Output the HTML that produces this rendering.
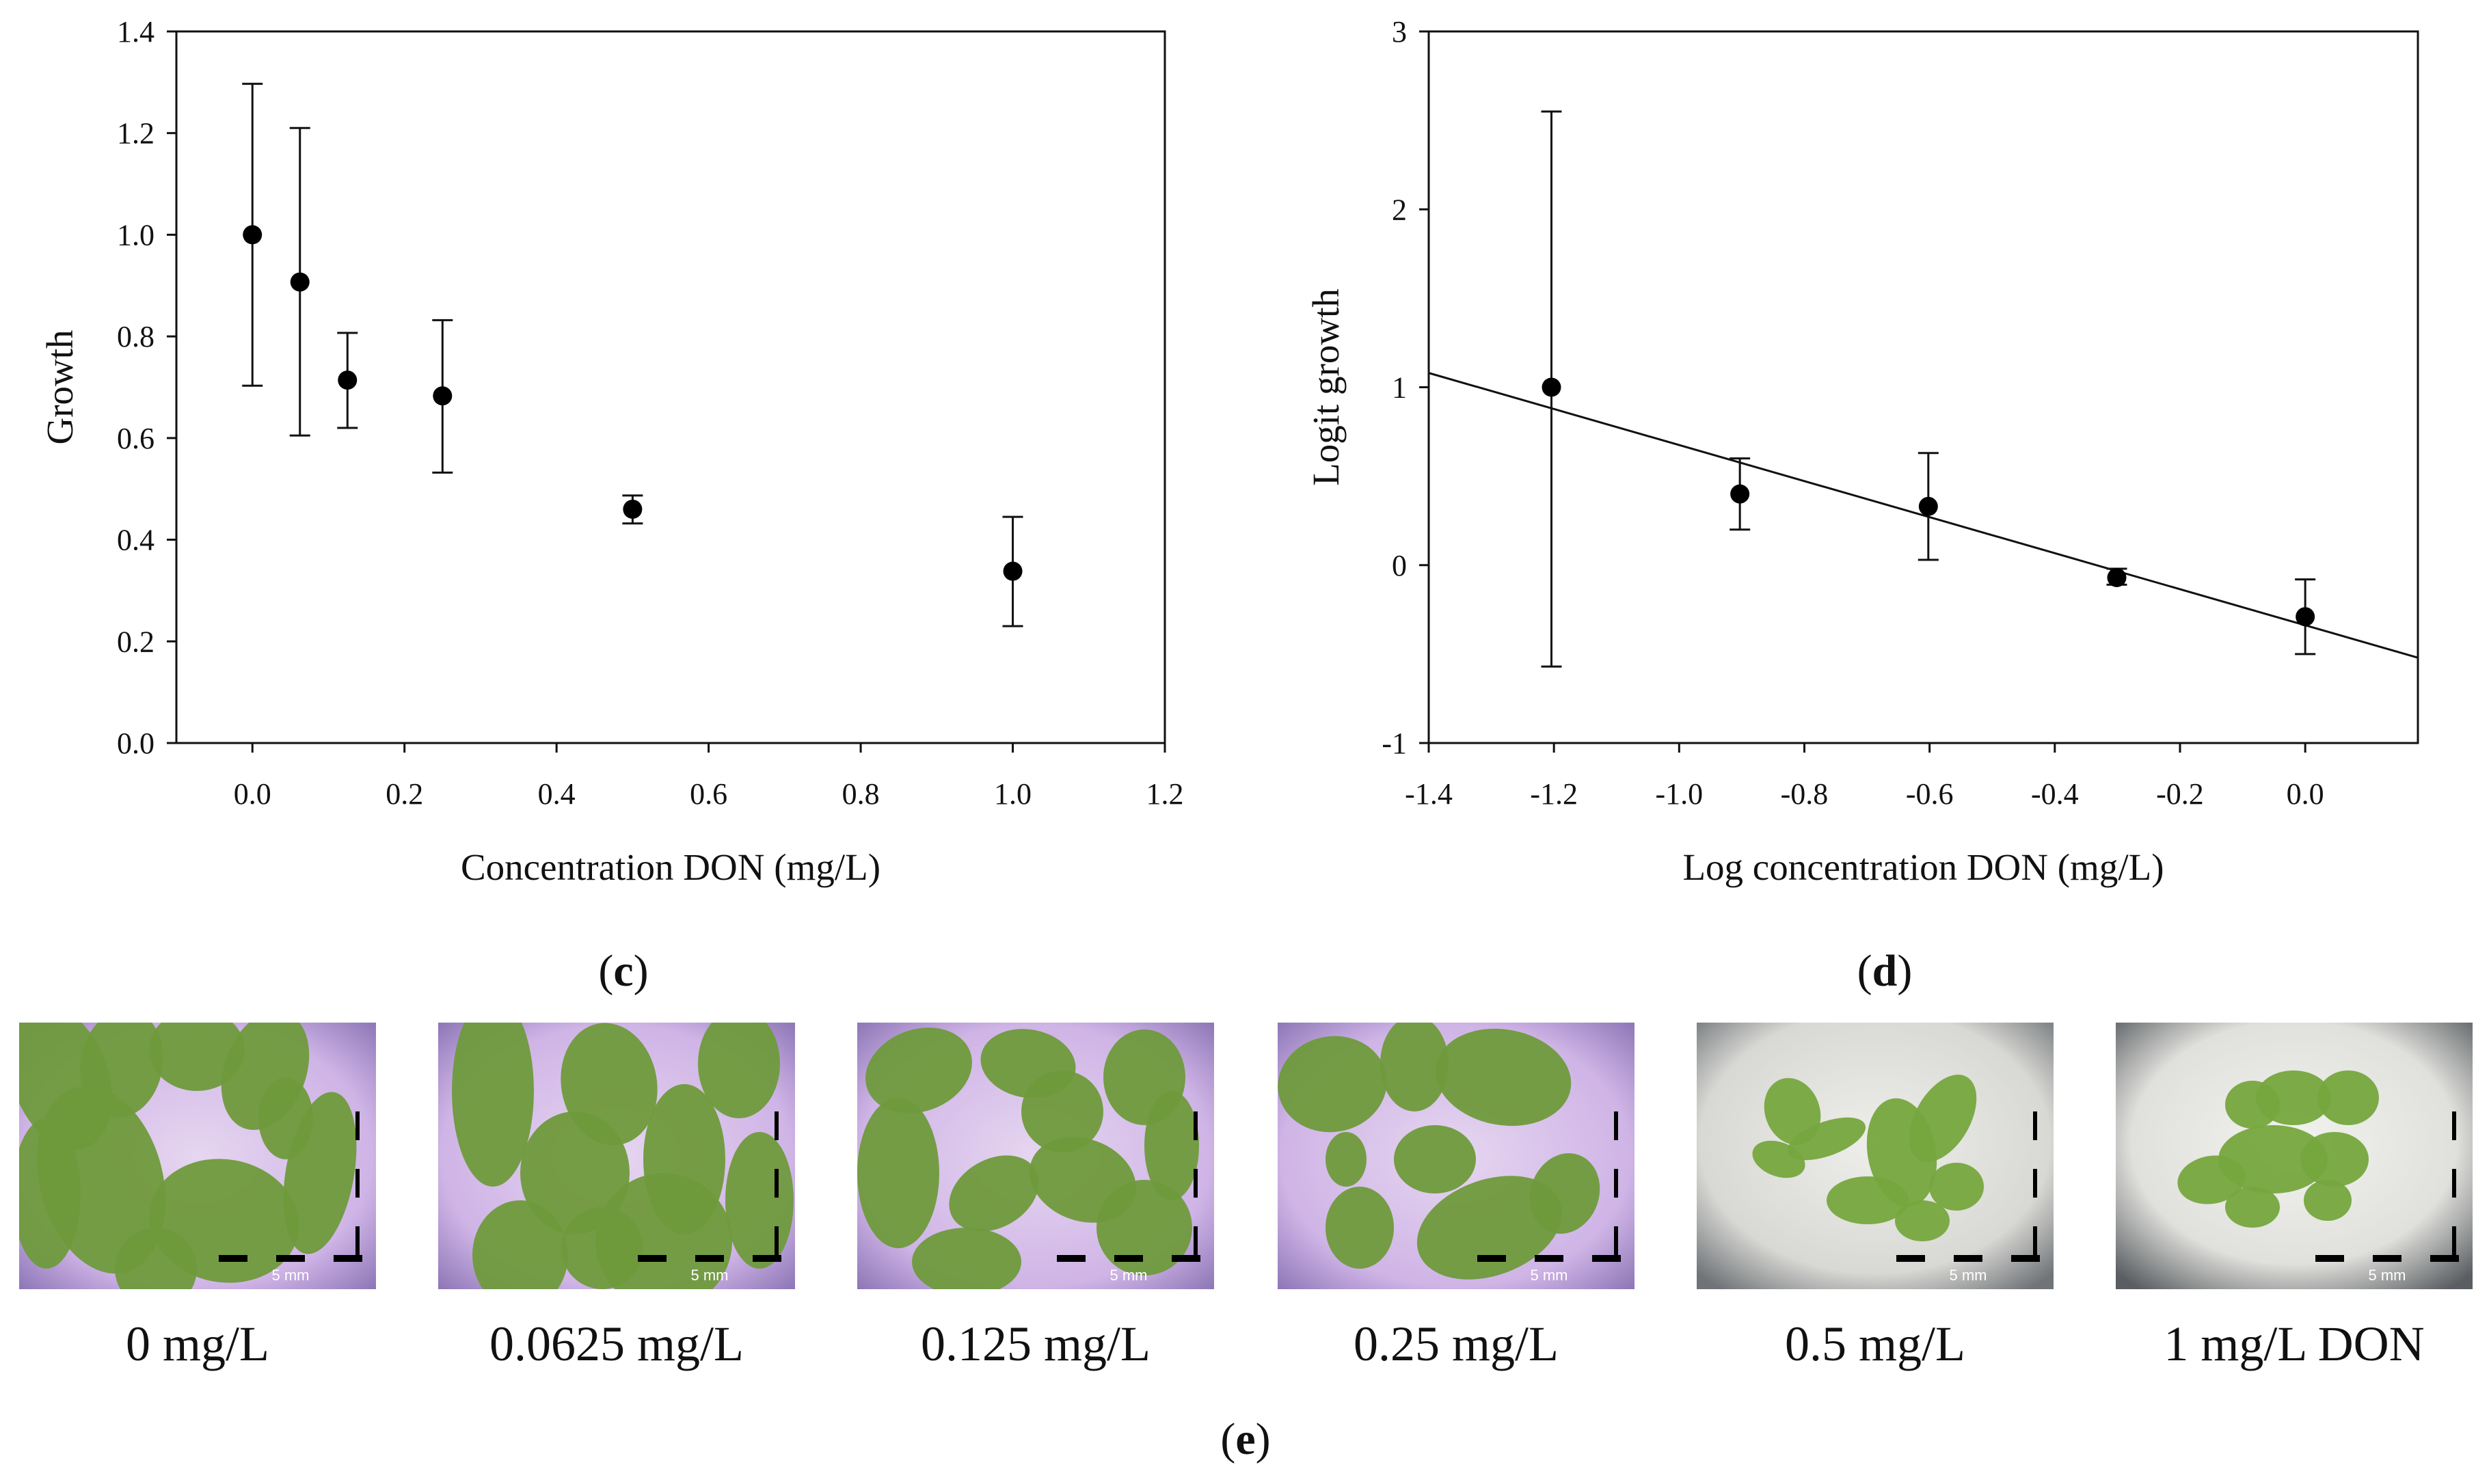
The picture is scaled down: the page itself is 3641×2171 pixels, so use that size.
<!DOCTYPE html>
<html><head><meta charset="utf-8"><style>
html,body{margin:0;padding:0;background:#fff}
svg{display:block}
text{font-family:"Liberation Serif",serif;fill:#111}
</style></head><body>
<svg id="fig" width="3641" height="2171" viewBox="0 0 3641 2171" xmlns="http://www.w3.org/2000/svg">
<defs>
<radialGradient id="purp" cx="50%" cy="50%" r="70%"><stop offset="0" stop-color="#e6d6f0"/><stop offset="0.7" stop-color="#cfb4e6"/><stop offset="1" stop-color="#8f78b8"/></radialGradient>
<radialGradient id="grey" cx="50%" cy="45%" r="70%"><stop offset="0" stop-color="#eeeeea"/><stop offset="0.7" stop-color="#d8d8d4"/><stop offset="1" stop-color="#707478"/></radialGradient>
<radialGradient id="grey2" cx="50%" cy="45%" r="70%"><stop offset="0" stop-color="#f2f2ee"/><stop offset="0.65" stop-color="#e0e0dc"/><stop offset="1" stop-color="#5a5e62"/></radialGradient>
<clipPath id="pclip"><rect x="0" y="0" width="522" height="390"/></clipPath>
</defs>
<g id="chartC"></g>
<g id="chartD"></g>
<text x="912" y="1442" font-size="66" text-anchor="middle">(<tspan font-weight="bold">c</tspan>)</text>
<text x="2757" y="1442" font-size="66" text-anchor="middle">(<tspan font-weight="bold">d</tspan>)</text>
<g id="photos"></g>
<text x="1822" y="2127" font-size="66" text-anchor="middle">(<tspan font-weight="bold">e</tspan>)</text>
</svg>
<script>
// Chart (c)
const cX = [0, 0.0625, 0.125, 0.25, 0.5, 1.0];
const cY = [1.0, 0.907, 0.714, 0.683, 0.46, 0.338];
const cHi = [1.297, 1.21, 0.807, 0.832, 0.487, 0.445];
const cLo = [0.703, 0.605, 0.62, 0.532, 0.432, 0.23];
const cXTicks = ["0.0","0.2","0.4","0.6","0.8","1.0","1.2"];
const cYTicks = ["0.0","0.2","0.4","0.6","0.8","1.0","1.2","1.4"];
// Chart (d)
const dX = [-1.204, -0.903, -0.602, -0.301, 0];
const dY = [1.0, 0.4, 0.33, -0.07, -0.29];
const dHi = [2.55, 0.6, 0.63, -0.02, -0.08];
const dLo = [-0.57, 0.2, 0.03, -0.11, -0.5];
const dXTicks = ["-1.4","-1.2","-1.0","-0.8","-0.6","-0.4","-0.2","0.0"];
const dYTicks = ["-1","0","1","2","3"];
const dFit = [-0.338, -1.013]; // intercept, slope
const photoLabels = ["0 mg/L","0.0625 mg/L","0.125 mg/L","0.25 mg/L","0.5 mg/L","1 mg/L DON"];

const NS="http://www.w3.org/2000/svg";
function mk(p,tag,a){const e=document.createElementNS(NS,tag);for(const k in a)e.setAttribute(k,a[k]);p.appendChild(e);return e;}

function chart(g, o){
  const sx=v=>o.L+(v-o.x0)/(o.x1-o.x0)*(o.R-o.L);
  const sy=v=>o.B-(v-o.y0)/(o.y1-o.y0)*(o.B-o.T);
  const fr=mk(g,'rect',{x:o.L,y:o.T,width:o.R-o.L,height:o.B-o.T,fill:'none',stroke:'#111','stroke-width':3});
  
  
  o.xt.forEach(t=>{const v=parseFloat(t),x=sx(v);
    const l=mk(g,'line',{x1:x,y1:o.B,x2:x,y2:o.B+14,stroke:'#111','stroke-width':3});
    
    
    const tx=mk(g,'text',{x:x,y:o.B+89,'font-size':44,'text-anchor':'middle'});tx.textContent=t;
    
    });
  o.yt.forEach(t=>{const v=parseFloat(t),y=sy(v);
    const l=mk(g,'line',{x1:o.L-14,y1:y,x2:o.L,y2:y,stroke:'#111','stroke-width':3});
    
    
    const tx=mk(g,'text',{x:o.L-32,y:y+15,'font-size':44,'text-anchor':'end'});tx.textContent=t;
    
    });
  if(o.fit){const a=o.x0,b=o.x1;
    const fl=mk(g,'line',{x1:sx(a),y1:sy(o.fit[0]+o.fit[1]*a),x2:sx(b),y2:sy(o.fit[0]+o.fit[1]*b),stroke:'#111','stroke-width':3});
    
    }
  o.xs.forEach((v,i)=>{const x=sx(v);
    const eb=mk(g,'path',{d:`M${x},${sy(o.hi[i])}V${sy(o.lo[i])}M${x-15},${sy(o.hi[i])}H${x+15}M${x-15},${sy(o.lo[i])}H${x+15}`,stroke:'#111','stroke-width':3,fill:'none'});
    
    
    const c=mk(g,'circle',{cx:x,cy:sy(o.ys[i]),r:14,fill:'#000'});
    
    });
  const xl=mk(g,'text',{x:(o.L+o.R)/2,y:o.B+200,'font-size':55,'text-anchor':'middle'});xl.textContent=o.xlab;
  
  
  const yl=mk(g,'text',{x:0,y:0,'font-size':55,'text-anchor':'middle',transform:`translate(${o.yx},${(o.T+o.B)/2}) rotate(-90)`});yl.textContent=o.ylab;
  
  
}
chart(document.getElementById('chartC'),{L:258,R:1704,T:46,B:1087,x0:-0.1,x1:1.2,y0:0,y1:1.4,xt:cXTicks,yt:cYTicks,xs:cX,ys:cY,hi:cHi,lo:cLo,xlab:"Concentration DON (mg/L)",ylab:"Growth",yx:106});
chart(document.getElementById('chartD'),{L:2090,R:3537,T:46,B:1087,x0:-1.4,x1:0.18,y0:-1,y1:3,xt:dXTicks,yt:dYTicks,xs:dX,ys:dY,hi:dHi,lo:dLo,fit:dFit,xlab:"Log concentration DON (mg/L)",ylab:"Logit growth",yx:1958});

// photos
const P=document.getElementById('photos');
const px=[28,641,1254,1869,2482,3095];
const leafSets=[
 [[60,80,70,110,-20],[150,60,60,80,10],[260,40,70,60,0],[360,70,60,90,20],[120,230,90,140,-15],[300,290,110,90,10],[40,250,50,110,0],[440,220,50,120,10],[200,360,60,60,0],[390,140,40,60,0]],
 [[80,100,60,140,0],[250,90,70,90,-10],[440,60,60,80,0],[200,220,80,90,0],[360,200,60,110,0],[330,320,100,100,-20],[120,340,70,80,0],[470,260,50,100,0],[240,330,60,60,0]],
 [[90,70,80,60,-20],[250,60,70,50,10],[420,80,60,70,0],[60,220,60,110,0],[200,250,70,50,-30],[330,230,80,60,20],[160,350,80,50,0],[420,300,70,70,0],[300,130,60,60,0],[460,180,40,80,0]],
 [[80,90,80,70,-10],[200,60,50,70,0],[330,80,100,70,10],[230,200,60,50,0],[310,300,110,70,-20],[120,300,50,60,0],[420,250,50,60,20],[100,200,30,40,0]],
 [[140,130,40,50,-20],[190,170,60,25,-20],[120,200,40,25,20],[300,190,50,80,-10],[360,140,40,70,30],[250,260,60,35,0],[380,240,40,35,0],[330,290,40,30,0]],
 [[200,120,40,35,0],[260,110,55,40,0],[340,110,45,40,0],[140,230,50,35,-10],[230,200,80,50,0],[320,200,50,40,0],[200,270,40,30,0],[310,260,35,30,0]]
];
const bgs=['url(#purp)','url(#purp)','url(#purp)','url(#purp)','url(#grey)','url(#grey2)'];
px.forEach((x,i)=>{
  const g=mk(P,'g',{transform:`translate(${x},1496)`,'clip-path':'url(#pclip)'});
  
  
  mk(g,'rect',{x:0,y:0,width:522,height:390,fill:bgs[i]});
  leafSets[i].forEach(l=>{const e=mk(g,'ellipse',{cx:l[0],cy:l[1],rx:l[2],ry:l[3],fill:i<4?'#6f9a3c':'#76a73e',transform:`rotate(${l[4]} ${l[0]} ${l[1]})`,opacity:0.95});
    
    });
  const s1=mk(g,'line',{x1:292,y1:345,x2:502,y2:345,stroke:'#000','stroke-width':10,'stroke-dasharray':'42 42'});
  
  
  const s2=mk(g,'line',{x1:495,y1:130,x2:495,y2:340,stroke:'#000','stroke-width':6,'stroke-dasharray':'42 42'});
  
  
  const st=mk(g,'text',{x:397,y:377,'font-size':22,'text-anchor':'middle',style:'font-family:"Liberation Sans",sans-serif;fill:#fff'});st.textContent='5 mm';
  
  
  const cap=mk(P,'text',{x:x+261,y:1990,'font-size':72,'text-anchor':'middle'});cap.textContent=photoLabels[i];
  
  
});
</script>
</body></html>
